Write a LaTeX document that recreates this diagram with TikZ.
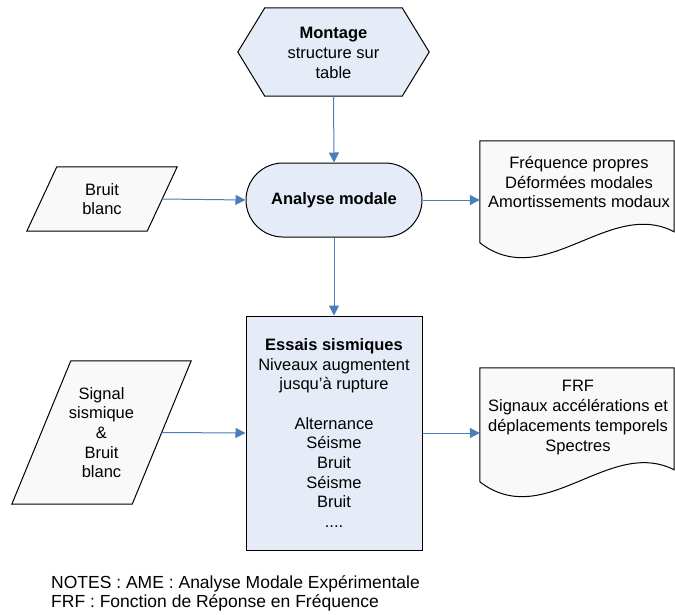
\documentclass[tikz,border=0pt]{standalone}
\usepackage{fontspec}
\setmainfont{Liberation Sans}
\usetikzlibrary{arrows.meta,shapes.misc,calc}
\definecolor{boxblue}{HTML}{E6ECF7}
\definecolor{boxgray}{HTML}{F9F9F9}
\definecolor{arrowblue}{HTML}{4A7EBB}
\begin{document}
\begin{tikzpicture}[x=1pt,y=-1pt,
  every node/.style={font=\fontsize{16.5}{19.7}\selectfont, align=center, inner sep=0pt},
  shapeline/.style={draw=black, line width=1pt},
  flow/.style={draw=arrowblue, line width=1pt, -{Triangle[length=10pt,width=10pt]}},
]
\useasboundingbox (0,0) rectangle (675,614);

% Montage hexagon
\node[minimum width=191pt, minimum height=88pt] (mont) at (333.5,52) {};
\filldraw[shapeline, fill=boxblue]
  (mont.west) -- ($(mont.north west)+(27,0)$) -- ($(mont.north east)+(-27,0)$)
  -- (mont.east) -- ($(mont.south east)+(-27,0)$) -- ($(mont.south west)+(27,0)$) -- cycle;
\node at ($(mont.center)+(0,1)$) {\textbf{Montage}\\structure sur\\table};

% Analyse modale terminal
\node[rounded rectangle, shapeline, fill=boxblue, minimum width=176pt, minimum height=74pt] (anal) at (334,200) {\textbf{Analyse modale}};

% Bruit blanc parallelogram
\node[minimum width=120pt, minimum height=64pt] (bb) at (102,199) {};
\filldraw[shapeline, fill=boxgray]
  ($(bb.north west)+(15,0)$) -- ($(bb.north east)+(15,0)$)
  -- ($(bb.south east)+(-15,0)$) -- ($(bb.south west)+(-15,0)$) -- cycle;
\node at (bb.center) {Bruit\\blanc};

% Output document 1
\node[minimum width=194pt, minimum height=118pt] (doc1) at (577,200) {};
\filldraw[shapeline, fill=boxgray]
  ($(doc1.north west)+(0,102)$) -- (doc1.north west) -- (doc1.north east) -- ($(doc1.north east)+(0,91)$)
  .. controls ($(doc1.north west)+(129,57)$) and ($(doc1.north west)+(65,152)$) .. ($(doc1.north west)+(0,102)$) -- cycle;
\node at (579,182) {Fréquence propres\\Déformées modales\\Amortissements modaux};

% Essais sismiques rectangle
\node[shapeline, fill=boxblue, minimum width=176pt, minimum height=234pt] (ess) at (334,433) {};
\node at (ess.center) {\textbf{Essais sismiques}\\Niveaux augmentent\\jusqu’à rupture\\[19.7pt]Alternance\\Séisme\\Bruit\\Séisme\\Bruit\\....};

% Signal parallelogram
\node[minimum width=120pt, minimum height=143pt] (sig) at (101.5,432.5) {};
\filldraw[shapeline, fill=boxgray]
  ($(sig.north west)+(29.5,0)$) -- ($(sig.north east)+(29.5,0)$)
  -- ($(sig.south east)+(-29.5,0)$) -- ($(sig.south west)+(-29.5,0)$) -- cycle;
\node at (sig.center) {Signal\\sismique\\\&\\Bruit\\blanc};

% Output document 2
\node[minimum width=194pt, minimum height=130pt] (doc2) at (577,433) {};
\filldraw[shapeline, fill=boxgray]
  ($(doc2.north west)+(0,114)$) -- (doc2.north west) -- (doc2.north east) -- ($(doc2.north east)+(0,102)$)
  .. controls ($(doc2.north west)+(129,69)$) and ($(doc2.north west)+(65,164)$) .. ($(doc2.north west)+(0,114)$) -- cycle;
\node at (578,417.5) {FRF\\Signaux accélérations et\\déplacements temporels\\Spectres};

% Connectors
\draw[flow] (mont.south) -- (anal.north);
\draw[flow] (bb.east) -- (anal.west);
\draw[flow] (anal.east) -- (doc1.west);
\draw[flow] (anal.south) -- (ess.north);
\draw[flow] (sig.east) -- (ess.west);
\draw[flow] (ess.east) -- (doc2.west);

% Notes
\node[anchor=west, align=left, font=\fontsize{17.5}{19.5}\selectfont] (notes) at (51,593.5) {NOTES : AME : Analyse Modale Expérimentale\\FRF : Fonction de Réponse en Fréquence};
\end{tikzpicture}
\end{document}
